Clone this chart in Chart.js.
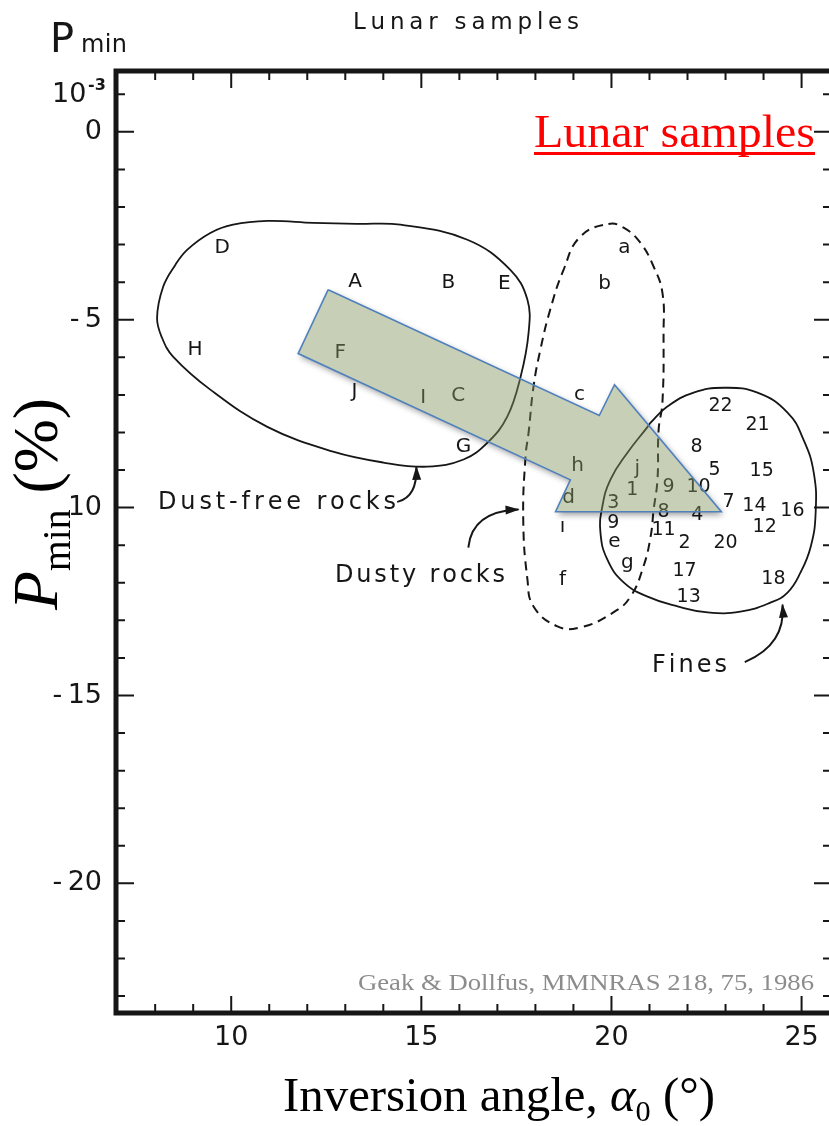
<!DOCTYPE html>
<html>
<head>
<meta charset="utf-8">
<script src="https://cdn.jsdelivr.net/npm/chart.js@4.4.1/dist/chart.umd.min.js"></script>
<style>
  html, body { margin: 0; padding: 0; background: #fff; overflow: hidden; }
  #wrap { width: 860px; height: 1126px; }
</style>
</head>
<body>
<div id="wrap"><canvas id="chart" width="860" height="1126"></canvas></div>
<script>
// tick labels
const xTickLabels = [10, 15, 20, 25];
const yTickLabels = [0, -5, -10, -15, -20];

// dust-free rocks (upper case)
const rockNames = ['D', 'A', 'B', 'E', 'H', 'F', 'J', 'I', 'C', 'G'];
const rockAlpha = [9.76, 13.26, 15.71, 17.18, 9.05, 12.87, 13.24, 15.05, 15.97, 16.11];
const rockPmin = [-3.09, -3.99, -4.02, -4.04, -5.80, -5.88, -6.91, -7.07, -7.02, -8.38];

// dusty rocks (lower case)
const dustyNames = ['a', 'b', 'c', 'h', 'd', 'ı', 'f', 'j', 'e', 'g'];
const dustyAlpha = [20.34, 19.82, 19.16, 19.11, 18.87, 18.71, 18.71, 20.68, 20.08, 20.42];
const dustyPmin = [-3.09, -4.04, -6.99, -8.88, -9.73, -10.51, -11.91, -8.96, -10.90, -11.46];

// fines (numbers)
const finesNames = ['22', '21', '8', '5', '15', '1', '9', '10', '7', '14', '16', '3', '8', '4', '12', '9', '11', '2', '20', '17', '18', '13'];
const finesAlpha = [22.87, 23.84, 22.24, 22.71, 23.95, 20.55, 21.50, 22.29, 23.08, 23.76, 24.76, 20.05, 21.37, 22.26, 24.03, 20.05, 21.37, 21.92, 23.00, 21.92, 24.26, 22.03];
const finesPmin = [-7.31, -7.79, -8.40, -8.99, -9.02, -9.52, -9.44, -9.44, -9.84, -9.97, -10.08, -9.89, -10.11, -10.19, -10.51, -10.40, -10.59, -10.93, -10.93, -11.68, -11.89, -12.37];

// group outlines (closed, first point not repeated)
const rockOutlineX = [8.05, 8.21, 8.53, 8.84, 9.45, 10.05, 10.95, 12.16, 13.30, 14.45, 16.21, 17.34, 17.79, 17.82, 17.61, 17.26, 16.74, 16.11, 15.16, 14.00, 12.68, 10.95, 9.45, 8.47, 8.18];
const rockOutlineY = [-4.95, -4.12, -3.54, -3.14, -2.69, -2.47, -2.37, -2.42, -2.45, -2.47, -2.87, -3.67, -4.47, -5.35, -6.52, -7.58, -8.27, -8.72, -8.91, -8.80, -8.51, -7.85, -6.86, -5.98, -5.48];

const dustyOutlineX = [19.92, 20.32, 20.76, 21.11, 21.34, 21.37, 21.34, 21.24, 21.21, 21.11, 21.03, 20.84, 20.50, 20.05, 19.18, 18.58, 17.95, 17.79, 17.68, 17.74, 17.82, 17.95, 18.13, 18.39, 18.74, 19.18];
const dustyOutlineY = [-2.45, -2.55, -2.95, -3.59, -4.28, -5.35, -7.21, -7.93, -9.26, -10.05, -10.77, -11.57, -12.37, -12.79, -13.19, -13.16, -12.63, -11.91, -10.32, -8.64, -8.01, -6.78, -5.80, -4.73, -3.67, -2.79];

const finesOutlineX = [21.03, 21.47, 22.16, 22.95, 23.84, 24.63, 25.05, 25.32, 25.37, 25.24, 24.97, 24.63, 24.18, 23.39, 22.53, 21.74, 20.95, 20.32, 19.89, 19.71, 19.76, 19.97, 20.42, 20.95];
const finesOutlineY = [-7.74, -7.31, -6.94, -6.81, -6.94, -7.47, -8.19, -9.07, -10.13, -11.04, -11.73, -12.26, -12.53, -12.77, -12.79, -12.63, -12.37, -11.99, -11.38, -10.66, -9.97, -9.26, -8.54, -7.85];

// big trend arrow
const trendAlpha = [12.55, 19.68, 20.08, 22.89, 18.53, 18.92, 11.76, 12.55];
const trendPmin = [-4.20, -7.55, -6.73, -10.11, -10.11, -9.26, -5.90, -4.20];

// small pointer arrows: start, control, tip
const pointerAlpha = [[14.39, 14.89, 14.87], [16.24, 16.34, 17.53], [23.53, 24.58, 24.50]];
const pointerPmin = [[-9.84, -9.71, -8.94], [-11.04, -10.11, -10.05], [-14.10, -13.64, -12.61]];

const ink = '#161616';
const sans = '"DejaVu Sans"';
const serif = '"Liberation Serif"';

function pts(xs, ys) {
    return xs.map((x, i) => ({ x: x, y: ys[i] }));
}

// wrap a closed outline so the spline has neighbours on both sides at the seam
function closed(xs, ys) {
    const p = pts(xs, ys);
    return [p[p.length - 1], ...p, p[0], p[1]];
}

function seamHidden(n) {
    return {
        borderColor: ctx => (ctx.p0DataIndex === 0 || ctx.p1DataIndex === n + 2) ? 'rgba(0,0,0,0)' : undefined
    };
}

function spacedText(ctx, text, x, y, width) {
    const widths = [...text].map(ch => ctx.measureText(ch).width);
    const total = widths.reduce((a, b) => a + b, 0);
    const gap = (width - total) / (text.length - 1);
    let cx = x;
    [...text].forEach((ch, i) => {
        ctx.fillText(ch, cx, y);
        cx += widths[i] + gap;
    });
}

function segFont(s, size) {
    return (s.italic ? 'italic ' : '') + (s.sub ? size * 0.62 : size) + 'px ' + serif;
}

function richWidth(ctx, segs, size) {
    let w = 0;
    segs.forEach(s => { ctx.font = segFont(s, size); w += ctx.measureText(s.t).width; });
    return w;
}

function drawRich(ctx, segs, x, y, size) {
    let cx = x;
    segs.forEach(s => {
        ctx.font = segFont(s, size);
        ctx.fillText(s.t, cx, y + (s.sub ? size * 0.2 : 0));
        cx += ctx.measureText(s.t).width;
    });
}

const labelPlugin = {
    id: 'labels',
    beforeDatasetDraw(chart, args) {
        const ds = chart.data.datasets[args.index];
        if (!ds.bigArrow) return;
        const c = chart.ctx;
        const p = args.meta.data;
        const path = (dx) => {
            c.beginPath();
            p.forEach((el, i) => i ? c.lineTo(el.x + dx, el.y) : c.moveTo(el.x + dx, el.y));
            c.closePath();
        };
        // soft shadow only outside the shape
        c.save();
        c.beginPath();
        c.rect(0, 0, chart.width, chart.height);
        p.forEach((el, i) => i ? c.lineTo(el.x, el.y) : c.moveTo(el.x, el.y));
        c.closePath();
        c.clip('evenodd');
        c.shadowColor = 'rgba(0,0,0,0.4)';
        c.shadowBlur = 6;
        c.shadowOffsetX = 10000 + 2;
        c.shadowOffsetY = 3;
        path(-10000);
        c.fillStyle = '#000';
        c.fill();
        c.restore();
        // translucent body
        c.save();
        path(0);
        c.fillStyle = 'rgba(133,148,95,0.45)';
        c.fill();
        c.restore();
    },
    afterDatasetDraw(chart, args) {
        const ds = chart.data.datasets[args.index];
        if (!ds.names) return;
        const c = chart.ctx;
        c.save();
        c.fillStyle = ink;
        c.font = ds.labelFont;
        c.textAlign = 'center';
        c.textBaseline = 'middle';
        args.meta.data.forEach((el, i) => c.fillText(ds.names[i], el.x, el.y));
        c.restore();
    }
};

const framePlugin = {
    id: 'frame',
    afterDraw(chart) {
        const c = chart.ctx;
        const { left, right, top, bottom } = chart.chartArea;
        const xs = chart.scales.x, ys = chart.scales.y;
        c.save();
        c.strokeStyle = ink;
        c.lineCap = 'square';

        // inward ticks
        c.lineWidth = 2;
        c.beginPath();
        xs.ticks.forEach(t => {
            if (!Number.isInteger(t.value)) return;
            const px = xs.getPixelForValue(t.value);
            if (px < left + 5 || px > right - 5) return;
            const len = t.value % 5 === 0 ? 16 : 8;
            c.moveTo(px, bottom); c.lineTo(px, bottom - len);
            c.moveTo(px, top); c.lineTo(px, top + len);
        });
        ys.ticks.forEach(t => {
            if (!Number.isInteger(t.value)) return;
            const py = ys.getPixelForValue(t.value);
            if (py < top + 5 || py > bottom - 5) return;
            const len = t.value % 5 === 0 ? 17 : 8;
            c.moveTo(left, py); c.lineTo(left + len, py);
            c.moveTo(right, py); c.lineTo(right - len, py);
        });
        c.stroke();

        // frame
        c.lineWidth = 5;
        c.strokeRect(left, top, right - left, bottom - top);

        // small pointer arrows
        c.lineWidth = 2;
        c.fillStyle = ink;
        pointerAlpha.forEach((ax, i) => {
            const p = ax.map((v, k) => [xs.getPixelForValue(v), ys.getPixelForValue(pointerPmin[i][k])]);
            c.beginPath();
            c.moveTo(p[0][0], p[0][1]);
            c.quadraticCurveTo(p[1][0], p[1][1], p[2][0], p[2][1]);
            c.stroke();
            const ang = Math.atan2(p[2][1] - p[1][1], p[2][0] - p[1][0]);
            c.save();
            c.translate(p[2][0], p[2][1]);
            c.rotate(ang);
            c.beginPath();
            c.moveTo(2, 0); c.lineTo(-12, -4.5); c.lineTo(-12, 4.5);
            c.closePath();
            c.fill();
            c.restore();
        });

        // group names
        c.fillStyle = ink;
        c.font = '24px ' + sans;
        c.textBaseline = 'alphabetic';
        spacedText(c, 'Dust-free rocks', 158, 509, 238);
        spacedText(c, 'Dusty rocks', 335, 582, 170);
        spacedText(c, 'Fines', 652, 672, 75);

        // original figure header
        c.font = '23px ' + sans;
        spacedText(c, 'Lunar samples', 353, 29, 226);
        c.font = '40px ' + sans;
        c.fillText('P', 50, 52);
        c.font = '24px ' + sans;
        spacedText(c, 'min', 81, 52, 46);
        c.font = '27px ' + sans;
        const p1 = ys.getPixelForValue(1);
        c.fillText('10', 52, p1 + 8);
        c.font = 'bold 16px ' + sans;
        c.fillText('-3', 88, p1 - 4);

        // red overlay title
        c.fillStyle = '#ff0000';
        c.font = '47px ' + serif;
        const rw = c.measureText('Lunar samples').width;
        c.save();
        c.translate(534, 147);
        c.scale(281 / rw, 1);
        c.fillText('Lunar samples', 0, 0);
        c.restore();
        c.fillRect(534, 152, 281, 3);

        // citation
        c.fillStyle = '#8c8c8c';
        c.font = '24px ' + serif;
        const cw = c.measureText('Geak & Dollfus, MMNRAS 218, 75, 1986').width;
        c.save();
        c.translate(358, 990);
        c.scale(456 / cw, 1);
        c.fillText('Geak & Dollfus, MMNRAS 218, 75, 1986', 0, 0);
        c.restore();

        // axis titles
        c.fillStyle = '#000';
        const xTitle = [{ t: 'Inversion angle, ' }, { t: 'α', italic: true }, { t: '0', sub: true }, { t: ' (°)' }];
        const xs0 = 48 * 432 / richWidth(c, xTitle, 48);
        drawRich(c, xTitle, 499 - richWidth(c, xTitle, xs0) / 2, 1111, xs0);

        const yTitle = [{ t: 'P', italic: true }, { t: 'min', sub: true }, { t: ' (%)' }];
        const ys0 = 44 * 212 / richWidth(c, yTitle, 44);
        c.fillStyle = '#fff';
        c.fillRect(6, 392, 65, 226);
        c.fillStyle = '#000';
        c.save();
        c.translate(57, 504);
        c.rotate(-Math.PI / 2);
        drawRich(c, yTitle, -richWidth(c, yTitle, ys0) / 2, 0, ys0);
        c.restore();

        c.restore();
    }
};

const tickFont = { family: 'DejaVu Sans', size: 27 };

new Chart(document.getElementById('chart'), {
    type: 'scatter',
    data: {
        datasets: [
            { data: closed(rockOutlineX, rockOutlineY), segment: seamHidden(rockOutlineX.length), showLine: true, borderColor: ink, borderWidth: 1.8, tension: 0.4, pointRadius: 0, order: 3 },
            { data: closed(dustyOutlineX, dustyOutlineY), segment: seamHidden(dustyOutlineX.length), showLine: true, borderColor: ink, borderWidth: 2, borderDash: [9, 6], tension: 0.45, pointRadius: 0, order: 3 },
            { data: closed(finesOutlineX, finesOutlineY), segment: seamHidden(finesOutlineX.length), showLine: true, borderColor: ink, borderWidth: 1.8, tension: 0.45, pointRadius: 0, order: 3 },
            { data: pts(rockAlpha, rockPmin), names: rockNames, labelFont: '20px ' + sans, pointRadius: 0, order: 2 },
            { data: pts(dustyAlpha, dustyPmin), names: dustyNames, labelFont: '20px ' + sans, pointRadius: 0, order: 2 },
            { data: pts(finesAlpha, finesPmin), names: finesNames, labelFont: '19px ' + sans, pointRadius: 0, order: 2 },
            { data: pts(trendAlpha, trendPmin), bigArrow: true, showLine: true, borderColor: '#4F81BD', borderWidth: 1.6, tension: 0, pointRadius: 0, order: 0 }
        ]
    },
    options: {
        responsive: false,
        animation: false,
        layout: { padding: { top: 71, right: 28, left: 0, bottom: 0 } },
        plugins: { legend: { display: false }, tooltip: { enabled: false } },
        scales: {
            x: {
                type: 'linear', min: 6.97, max: 25.8,
                grid: { display: false, drawTicks: false },
                border: { display: false },
                ticks: {
                    stepSize: 1, autoSkip: false, maxRotation: 0, padding: 9, includeBounds: false,
                    font: tickFont, color: ink,
                    callback: v => xTickLabels.includes(v) ? String(v) : ''
                },
                afterFit: s => { s.height = 113; }
            },
            y: {
                type: 'linear', min: -23.45, max: 1.62,
                grid: { display: false, drawTicks: false },
                border: { display: false },
                ticks: {
                    stepSize: 1, autoSkip: false, padding: 14, includeBounds: false,
                    font: tickFont, color: ink,
                    callback: v => yTickLabels.includes(v) ? (v < 0 ? '-\u2009' + (-v) : String(v)) : ''
                },
                afterFit: s => { s.width = 116; }
            }
        }
    },
    plugins: [labelPlugin, framePlugin]
});
</script>
</body>
</html>
